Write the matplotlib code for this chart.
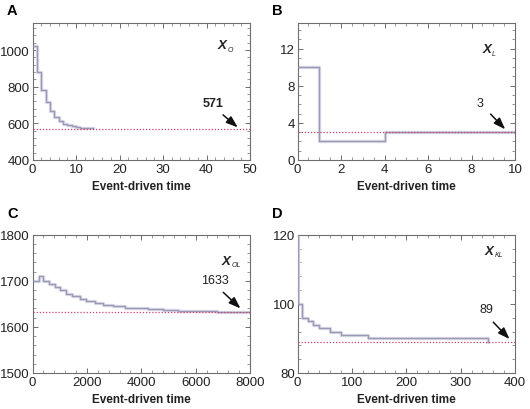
#!/usr/bin/env python3
"""Four-panel step plots of event-driven time series converging to a level."""

import matplotlib

matplotlib.use("Agg")
import matplotlib.pyplot as plt
from matplotlib.ticker import MultipleLocator

plt.rcParams["font.family"] = ["Liberation Sans", "DejaVu Sans"]

# panel A: X_O
a_time = [0, 1, 2, 3, 4, 5, 6, 7, 8, 9, 10, 11, 12, 13, 14]
a_value = [1020, 880, 780, 715, 668, 635, 612, 598, 590, 583, 578, 575, 573, 572, 572]
a_target = 571

# panel B: X_L
b_time = [0, 1, 4, 10]
b_value = [10, 2, 3, 3]
b_target = 3

# panel C: X_OL
c_time = [0, 221, 381, 590, 811, 1020, 1241, 1463, 1733, 1978, 2286, 2593,
          2961, 3392, 3883, 4252, 4805, 5357, 6034, 6772, 8000]
c_value = [1700, 1710, 1700, 1693, 1686, 1679, 1672, 1666, 1661, 1657, 1652,
           1648, 1645, 1642, 1640, 1638, 1636, 1635, 1634, 1633, 1633]
c_target = 1633

# panel D: X_KL
d_time = [0, 0, 9, 20, 29, 40, 60, 80, 130, 350, 350]
d_value = [125, 100, 96, 95, 94, 93, 92, 91, 90, 89, 89]
d_target = 89

CURVE = "#9a9ab6"
TARGET = "#d0406a"
SPINE = "#6e6e6e"


def draw_panel(ax, time, value, target, xlim, ylim, xmaj, xmin, ymaj, ymin,
               label, label_bold, label_xy, arrow_tail, arrow_head,
               sub, sub_xy):
    ax.step(time, value, where="post", color="#dcdcea", lw=2.4, zorder=2)
    ax.step(time, value, where="post", color=CURVE, lw=1.0, zorder=3)
    ax.axhline(target, color=TARGET, lw=0.9, ls=(0, (1, 1.5)), zorder=4)
    ax.set_xlim(*xlim)
    ax.set_ylim(*ylim)
    ax.xaxis.set_major_locator(MultipleLocator(xmaj))
    ax.xaxis.set_minor_locator(MultipleLocator(xmin))
    ax.yaxis.set_major_locator(MultipleLocator(ymaj))
    ax.yaxis.set_minor_locator(MultipleLocator(ymin))
    ax.tick_params(which="both", direction="in", top=True, right=True,
                   color=SPINE, labelsize=9.5, labelcolor="#222222", pad=2)
    ax.tick_params(which="major", length=3.5, width=0.7)
    ax.tick_params(which="minor", length=2, width=0.5)
    for spine in ax.spines.values():
        spine.set_color(SPINE)
        spine.set_linewidth(0.8)
    ax.set_xlabel("Event-driven time", fontsize=8.5, fontweight="bold",
                  color="#222222", labelpad=4)

    ax.text(*label_xy, label, fontsize=9, ha="center", va="center",
            fontweight="bold" if label_bold else "normal", color="#222222")
    ax.annotate("", xy=arrow_head, xytext=arrow_tail,
                arrowprops=dict(arrowstyle="-|>,head_length=0.7,head_width=0.25",
                                color="#111111", lw=1.1, shrinkA=0, shrinkB=0))
    ax.text(*sub_xy, "X", fontsize=9.5, fontweight="bold", fontstyle="italic",
            ha="center", va="center", color="#222222")
    ax.annotate(sub, xy=sub_xy, xytext=(4, -3), textcoords="offset points",
                fontsize=5, fontstyle="italic", ha="left", va="center",
                color="#222222")


def main():
    fig = plt.figure(figsize=(5.3, 4.1), dpi=100)
    w = 217.5 / 530
    h = 137.5 / 410
    ax_a = fig.add_axes([32.5 / 530, 1 - 161 / 410, w, h])
    ax_b = fig.add_axes([297.5 / 530, 1 - 161 / 410, w, h])
    ax_c = fig.add_axes([32.5 / 530, 1 - 374 / 410, w, 138.3 / 410])
    ax_d = fig.add_axes([297.5 / 530, 1 - 374 / 410, w, 138.3 / 410])

    draw_panel(ax_a, a_time, a_value, a_target, (0, 50), (400, 1150),
               10, 2, 200, 40, "571", True, (41.5, 711),
               (43.8, 646), (47.2, 578), "O", (43.5, 1027))
    draw_panel(ax_b, b_time, b_value, b_target, (0, 10), (0, 14.8),
               2, 0.5, 4, 1, "3", False, (8.4, 6.1),
               (8.88, 4.94), (9.55, 3.3), "L", (8.7, 11.9))
    draw_panel(ax_c, c_time, c_value, c_target, (0, 8000), (1500, 1800),
               2000, 400, 100, 20, "1633", False, (6710, 1702),
               (7016, 1675), (7650, 1640), "OL", (7130, 1744))
    draw_panel(ax_d, d_time, d_value, d_target, (0, 400), (80, 120),
               100, 20, 20, 4, "89", False, (348, 98.5),
               (360, 94.7), (390, 89.8), "KL", (353, 115.4))

    letter_kw = dict(fontsize=10.5, fontweight="bold", ha="left", va="center")
    fig.text(7 / 530, 1 - 11 / 410, "A", **letter_kw)
    fig.text(272 / 530, 1 - 11 / 410, "B", **letter_kw)
    fig.text(7 / 530, 1 - 214 / 410, "C", **letter_kw)
    fig.text(272 / 530, 1 - 214 / 410, "D", **letter_kw)

    fig.savefig("out.png", dpi=100)


if __name__ == "__main__":
    main()
